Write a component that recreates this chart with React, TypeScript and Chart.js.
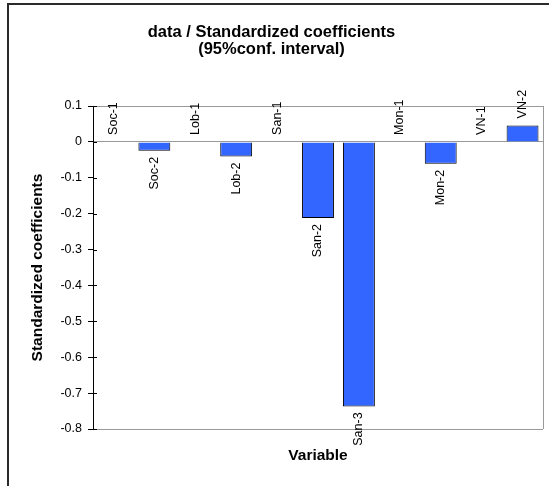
import React, { useEffect, useRef } from "react";
import { Chart, registerables } from "chart.js";

Chart.register(...registerables);

const categories = ["Soc-1", "Soc-2", "Lob-1", "Lob-2", "San-1", "San-2", "San-3", "Mon-1", "Mon-2", "VN-1", "VN-2"];
const coefficients = [0, -0.025, 0, -0.041, 0, -0.212, -0.737, 0, -0.061, 0, 0.046];
const titleLines = ["data / Standardized coefficients", "(95%conf. interval)"];
const yTitle = "Standardized coefficients";
const xTitle = "Variable";
const yMin = -0.8;
const yMax = 0.1;
const yStep = 0.1;

const FONT = "'Liberation Sans', Arial, sans-serif";

const barLabelPlugin = {
  id: "barLabels",
  afterDraw(chart: any) {
    const ctx = chart.ctx;
    const meta = chart.getDatasetMeta(0);
    ctx.save();
    ctx.font = `12.5px ${FONT}`;
    ctx.fillStyle = "#000";
    ctx.textBaseline = "middle";
    meta.data.forEach((bar: any, i: number) => {
      const v = coefficients[i];
      ctx.save();
      if (v >= 0) {
        ctx.translate(bar.x, bar.y - 7);
        ctx.rotate(-Math.PI / 2);
        ctx.textAlign = "left";
      } else {
        ctx.translate(bar.x, bar.y + 6);
        ctx.rotate(-Math.PI / 2);
        ctx.textAlign = "right";
      }
      ctx.fillText(categories[i], 0, 0);
      ctx.restore();
    });
    const a = chart.chartArea;
    // inner half of the crossing tick marks
    const yScale = chart.scales.y;
    ctx.strokeStyle = "#000";
    ctx.lineWidth = 1;
    yScale.ticks.forEach((t: any) => {
      const py = Math.round(yScale.getPixelForValue(t.value)) + 0.5;
      ctx.beginPath();
      ctx.moveTo(a.left, py);
      ctx.lineTo(a.left + 4, py);
      ctx.stroke();
    });
    // right border of plot area
    ctx.strokeStyle = "#999";
    ctx.beginPath();
    ctx.moveTo(Math.round(a.right) + 0.5, a.top);
    ctx.lineTo(Math.round(a.right) + 0.5, a.bottom);
    ctx.stroke();
    // outer frame
    ctx.strokeStyle = "#2a2a2a";
    ctx.lineWidth = 2;
    ctx.beginPath();
    ctx.moveTo(8, chart.height + 2);
    ctx.lineTo(8, 4);
    ctx.lineTo(chart.width + 2, 4);
    ctx.stroke();
    ctx.restore();
  },
};

const isLine = (v: number) =>
  Math.abs(v) < 1e-9 || Math.abs(v - yMax) < 1e-9 || Math.abs(v - yMin) < 1e-9;

export default function App() {
  const ref = useRef<HTMLCanvasElement>(null);
  useEffect(() => {
    if (!ref.current) return;
    Chart.defaults.font.family = FONT;
    Chart.defaults.color = "#000";
    const chart = new Chart(ref.current, {
      type: "bar",
      data: {
        labels: categories,
        datasets: [
          {
            data: coefficients,
            backgroundColor: "#3366FF",
            borderColor: "#000",
            borderWidth: (c: any) => (coefficients[c.dataIndex] === 0 ? 0 : 1),
            barPercentage: 0.78,
            categoryPercentage: 1,
          },
        ],
      },
      options: {
        responsive: false,
        animation: false,
        layout: { padding: { left: 0, right: 6, top: 0, bottom: 0 } },
        plugins: {
          legend: { display: false },
          tooltip: { enabled: false },
          title: {
            display: true,
            text: titleLines,
            color: "#000",
            font: { family: FONT, size: 16.5, weight: "bold", lineHeight: 1.0 },
            padding: { top: 24.5, bottom: 48.5 },
          },
        },
        scales: {
          x: {
            grid: { display: false },
            border: { display: false },
            ticks: { display: false },
            title: {
              display: true,
              text: xTitle,
              color: "#000",
              font: { family: FONT, size: 15.5, weight: "bold", lineHeight: 1.2 },
              padding: { top: 0, bottom: 20.5 },
            },
            afterFit: (s: any) => {
              s.height = 57;
            },
          },
          y: {
            min: yMin,
            max: yMax,
            ticks: {
              stepSize: yStep,
              padding: 6,
              color: "#000",
              font: { family: FONT, size: 12.5 },
              callback: (v: any) => {
                const n = Number(Number(v).toFixed(1));
                return n === 0 ? "0" : String(n);
              },
            },
            grid: {
              color: (c: any) => (c.tick && isLine(c.tick.value) ? "#999" : "rgba(0,0,0,0)"),
              tickColor: "#000",
              tickLength: 5,
              drawTicks: true,
            },
            border: { display: true, color: "#000", width: 1 },
            title: {
              display: true,
              text: yTitle,
              color: "#000",
              font: { family: FONT, size: 15.5, weight: "bold", lineHeight: 1.2 },
              padding: { top: 28.5, bottom: 0 },
            },
            afterFit: (s: any) => {
              s.width = 93;
            },
          },
        },
      },
      plugins: [barLabelPlugin],
    } as any);
    return () => chart.destroy();
  }, []);
  return (
    <div style={{ position: "fixed", left: 0, top: 0, width: 549, height: 486, background: "#fff" }}>
      <canvas ref={ref} width={549} height={486} />
    </div>
  );
}
